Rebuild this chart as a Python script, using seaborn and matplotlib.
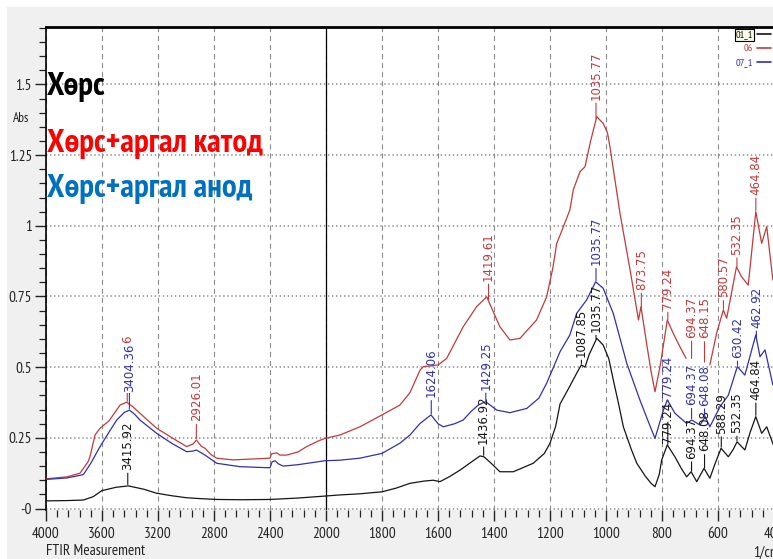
import numpy as np
import pandas as pd
import matplotlib
matplotlib.use("Agg")
import matplotlib.pyplot as plt
import seaborn as sns
from matplotlib import font_manager as fm
from matplotlib.ticker import FixedLocator, FixedFormatter
from matplotlib.patches import Rectangle
from matplotlib.lines import Line2D

# ---------------- data ----------------
series_names = ["01_1", "06", "07_1"]
heading_texts = ["Хөрс", "Хөрс+аргал катод", "Хөрс+аргал анод"]

black_wn = [4000, 3850, 3733, 3662, 3602, 3500, 3412, 3300, 3210, 3100, 2995, 2900, 2781,
            2600, 2400, 2200, 2007, 1950, 1879, 1800, 1750, 1700, 1650, 1617, 1593, 1560,
            1521, 1480, 1450, 1436, 1410, 1379, 1331, 1260, 1220, 1200, 1180, 1164, 1140,
            1120, 1105, 1088, 1075, 1060, 1033, 1010, 990, 974, 955, 938, 910, 890, 860,
            840, 825, 810, 801, 781, 765, 754, 730, 712, 696, 676, 650, 629, 610, 589,
            563, 545, 532, 504, 485, 465, 444, 426, 400]
black_abs = [0.027, 0.028, 0.030, 0.042, 0.063, 0.075, 0.080, 0.068, 0.054, 0.045, 0.038,
             0.035, 0.032, 0.031, 0.032, 0.037, 0.044, 0.048, 0.052, 0.059, 0.072, 0.089,
             0.097, 0.100, 0.095, 0.112, 0.136, 0.165, 0.186, 0.183, 0.160, 0.130, 0.130,
             0.160, 0.195, 0.231, 0.290, 0.370, 0.413, 0.450, 0.478, 0.508, 0.500, 0.545,
             0.602, 0.578, 0.530, 0.455, 0.370, 0.289, 0.210, 0.160, 0.115, 0.090, 0.077,
             0.120, 0.172, 0.225, 0.200, 0.183, 0.140, 0.112, 0.130, 0.095, 0.142, 0.107,
             0.160, 0.213, 0.183, 0.210, 0.236, 0.207, 0.270, 0.325, 0.266, 0.289, 0.219]

red_wn = [4000, 3850, 3757, 3700, 3686, 3650, 3614, 3550, 3471, 3424, 3380, 3329, 3210,
          3100, 2995, 2950, 2926, 2890, 2864, 2820, 2781, 2664, 2400, 2390, 2352, 2330,
          2281, 2200, 2138, 2050, 2007, 1950, 1879, 1800, 1736, 1700, 1664, 1652, 1620,
          1599, 1569, 1510, 1462, 1426, 1400, 1379, 1343, 1307, 1248, 1212, 1190, 1176,
          1164, 1129, 1117, 1093, 1075, 1055, 1033, 1010, 995, 986, 950, 914, 884, 875,
          855, 840, 825, 807, 781, 760, 736, 714, 700, 629, 605, 581, 569, 534, 516, 492,
          465, 444, 426, 404]
red_abs = [0.105, 0.112, 0.125, 0.165, 0.183, 0.260, 0.284, 0.310, 0.366, 0.376, 0.360,
           0.337, 0.284, 0.250, 0.219, 0.228, 0.242, 0.220, 0.213, 0.190, 0.178, 0.172,
           0.178, 0.193, 0.197, 0.189, 0.189, 0.200, 0.219, 0.240, 0.248, 0.260, 0.289,
           0.331, 0.366, 0.410, 0.490, 0.502, 0.505, 0.508, 0.531, 0.643, 0.714, 0.749,
           0.690, 0.643, 0.596, 0.602, 0.667, 0.749, 0.850, 0.938, 0.967, 1.056, 1.127,
           1.191, 1.209, 1.300, 1.386, 1.362, 1.330, 1.280, 1.044, 0.844, 0.667, 0.714,
           0.584, 0.490, 0.413, 0.502, 0.667, 0.620, 0.572, 0.531, np.nan, 0.508, 0.620,
           0.702, 0.673, 0.855, 0.820, 0.790, 1.050, 0.938, 0.997, 0.808]

blue_wn = [4000, 3850, 3733, 3680, 3614, 3550, 3495, 3440, 3405, 3370, 3329, 3210, 3100,
           2995, 2950, 2926, 2864, 2781, 2614, 2400, 2385, 2364, 2340, 2307, 2200, 2007,
           1950, 1879, 1800, 1736, 1700, 1664, 1625, 1600, 1581, 1540, 1510, 1480, 1456,
           1430, 1390, 1343, 1283, 1240, 1212, 1164, 1129, 1105, 1069, 1037, 1010, 974,
           926, 879, 850, 825, 795, 781, 754, 712, 694, 664, 646, 629, 593, 563, 531, 504,
           465, 450, 432, 404]
blue_abs = [0.103, 0.108, 0.120, 0.160, 0.219, 0.270, 0.313, 0.340, 0.348, 0.335, 0.313,
            0.266, 0.230, 0.201, 0.203, 0.207, 0.189, 0.160, 0.148, 0.144, 0.165, 0.169,
            0.158, 0.150, 0.155, 0.169, 0.171, 0.178, 0.195, 0.231, 0.260, 0.301, 0.331,
            0.300, 0.289, 0.300, 0.313, 0.345, 0.366, 0.378, 0.348, 0.339, 0.354, 0.390,
            0.443, 0.555, 0.614, 0.690, 0.738, 0.802, 0.779, 0.690, 0.514, 0.384, 0.310,
            0.248, 0.348, 0.384, 0.337, 0.301, 0.313, 0.295, 0.325, 0.289, 0.360, 0.401,
            0.502, 0.472, 0.614, 0.537, 0.561, 0.437]

black_peaks = [3415.92, 1436.92, 1087.85, 1035.77, 779.24, 694.37, 648.08, 588.29, 532.35, 464.84]
black_peak_labels = ["3415.92", "1436.92", "1087.85", "1035.77", "779.24", "694.37",
                     "648.08", "588.29", "532.35", "464.84"]
red_peaks = [3419.56, 2926.01, 1419.61, 1035.77, 873.75, 779.24, 694.37, 648.15, 580.57,
             532.35, 464.84]
red_peak_labels = ["3419.56", "2926.01", "1419.61", "1035.77", "873.75", "779.24", "694.37",
                   "648.15", "580.57", "532.35", "464.84"]
blue_peaks = [3404.36, 1624.06, 1429.25, 1035.77, 779.24, 694.37, 648.08, 530.42, 462.92]
blue_peak_labels = ["3404.36", "1624.06", "1429.25", "1035.77", "779.24", "694.37",
                    "648.08", "630.42", "462.92"]

x_major = [4000, 3600, 3200, 2800, 2400, 2000, 1800, 1600, 1400, 1200, 1000, 800, 600, 400]
x_major_labels = ["4000", "3600", "3200", "2800", "2400", "2000", "1800", "1600", "1400",
                  "1200", "1000", "800", "600", "400"]
y_major = [0, 0.25, 0.5, 0.75, 1.0, 1.25, 1.5]
y_major_labels = ["-0", "0.25", "0.5", "0.75", "1", "1.25", "1.5"]

# ---------------- layout / style (not data) ----------------
black_offsets = [16, 13, 8, 8, 3, 14, 18, 15, 9, 17]
red_offsets = [20, 19, 20, 20, 19, 12, 22, 25, 13, 13, 17]
blue_offsets = [18, 18, 12, 17, 4, 15, 12, 9, 10]

C_BLACK = "#151515"
C_RED = "#c23a3a"
C_BLUE = "#3030b0"

sns.set_theme(style="white")
names = {f.name for f in fm.fontManager.ttflist}
NARROW = "DejaVu Sans"
for cand in ["PT Sans Narrow", "Roboto Condensed", "Archivo Narrow", "Liberation Sans Narrow"]:
    if cand in names:
        NARROW = cand
        break
plt.rcParams["font.family"] = [NARROW, "DejaVu Sans"]
plt.rcParams["lines.scale_dashes"] = False

W, H = 773, 559
fig = plt.figure(figsize=(W / 100, H / 100), dpi=100)
fig.patch.set_facecolor("white")
fig.patches.append(Rectangle((7 / W, 0), (W - 7) / W, (H - 7) / H, transform=fig.transFigure,
                             facecolor="#f0f0f0", edgecolor="none", zorder=-10))

ax_left, ax_right, ax_top, ax_bottom = 46, 774, 26.5, 510
ax = fig.add_axes([ax_left / W, (H - ax_bottom) / H, (ax_right - ax_left) / W,
                   (ax_bottom - ax_top) / H])
ax.set_facecolor("white")


def fwd(x):
    x = np.asarray(x, dtype=float)
    return np.where(x >= 2000, x, 2.0 * x - 2000.0)


def inv(u):
    u = np.asarray(u, dtype=float)
    return np.where(u >= 2000, u, (u + 2000.0) / 2.0)


ax.set_xscale("function", functions=(fwd, inv))


def make_df(wn, ab, name):
    ab = np.asarray(ab, dtype=float)
    seg = np.cumsum(np.isnan(ab))
    d = pd.DataFrame({"wn": wn, "absorbance": ab, "series": name,
                      "unit": [f"{name}_{s}" for s in seg]})
    return d.dropna()


df = pd.concat([make_df(black_wn, black_abs, series_names[0]),
                make_df(red_wn, red_abs, series_names[1]),
                make_df(blue_wn, blue_abs, series_names[2])], ignore_index=True)

palette = {series_names[0]: C_BLACK, series_names[1]: C_RED, series_names[2]: C_BLUE}
sns.lineplot(data=df, x="wn", y="absorbance", hue="series", units="unit", estimator=None,
             palette=palette, legend=False, linewidth=0.9, sort=False, ax=ax, zorder=3)

ax.set_xlim(4000, 400)
ax.set_ylim(-0.0053, 1.705)
ax.set_xlabel("")
ax.set_ylabel("")

# ticks
ax.xaxis.set_major_locator(FixedLocator(x_major))
ax.xaxis.set_major_formatter(FixedFormatter(x_major_labels))
minor_x = [v for v in list(np.arange(4000, 2000, -80)) + list(np.arange(2000, 399, -40))
           if v not in x_major]
ax.xaxis.set_minor_locator(FixedLocator(minor_x))
ax.yaxis.set_major_locator(FixedLocator(y_major))
ax.yaxis.set_major_formatter(FixedFormatter(y_major_labels))
ax.yaxis.set_minor_locator(FixedLocator(np.arange(0, 1.71, 0.05)))

ax.tick_params(axis="both", which="major", direction="out", length=8, width=1,
               color="#222222", labelsize=11, labelcolor="#222222", bottom=True, left=True)
ax.tick_params(axis="both", which="minor", direction="out", length=5, width=0.9,
               color="#222222", bottom=True, left=True)
ax.tick_params(axis="x", which="major", pad=4)
ax.tick_params(axis="y", which="major", pad=2)

ax.grid(axis="x", which="major", linestyle=(0, (3.6, 2.9)), color="#8a8a8a", linewidth=0.8)
ax.grid(axis="y", which="major", linestyle=(0, (1.0, 1.9)), color="#8a8a8a", linewidth=1.1)
ax.set_axisbelow(True)
ax.axvline(2000, color="black", linewidth=0.9, zorder=2)

for side in ["right", "bottom"]:
    ax.spines[side].set_visible(False)
ax.spines["top"].set_linewidth(2.0)
ax.spines["top"].set_color("black")
ax.spines["left"].set_linewidth(1.2)
ax.spines["left"].set_color("black")


# peak annotations
def annotate(wn, ab, peaks, labels, offsets, color, z, white_idx=()):
    xs = np.asarray(wn, float)[::-1]
    ys = np.asarray(ab, float)[::-1]
    ok = ~np.isnan(ys)
    for i, (p, lab, off) in enumerate(zip(peaks, labels, offsets)):
        yp = np.interp(p, xs[ok], ys[ok])
        kw = {}
        if i in white_idx:
            kw["bbox"] = dict(facecolor="white", edgecolor="none", pad=0.6)
        ax.annotate(lab, xy=(p, yp), xytext=(0, off), textcoords="offset pixels",
                    rotation=90, ha="center", va="bottom", color=color, fontsize=8.5,
                    family=["DejaVu Sans"], zorder=z,
                    arrowprops=dict(arrowstyle="-", color=color, lw=0.8,
                                    shrinkA=0, shrinkB=1), **kw)


annotate(black_wn, black_abs, black_peaks, black_peak_labels, black_offsets, C_BLACK, 5)
annotate(red_wn, red_abs, red_peaks, red_peak_labels, red_offsets, C_RED, 4)
annotate(blue_wn, blue_abs, blue_peaks, blue_peak_labels, blue_offsets, C_BLUE, 6,
         white_idx=(0,))

# headings, sized so that the longest one spans the same width as in the reference
head_colors = ["black", "#ff0000", "#0070c0"]
head_baselines = [95, 152, 197]
heads = []
for txt, col, yb in zip(heading_texts, head_colors, head_baselines):
    heads.append(fig.text(47 / W, 1 - yb / H, txt, color=col, fontsize=22, fontweight="bold",
                          ha="left", va="baseline", zorder=10))
renderer = fig.canvas.get_renderer()
wid = heads[1].get_window_extent(renderer).width
fs = 22 * 215.0 / wid
for t in heads:
    t.set_fontsize(fs)

# legend
handles = [Line2D([], [], color=c, lw=1.2) for c in [C_BLACK, C_RED, C_BLUE]]
leg = ax.legend(handles, series_names, loc="upper right", bbox_to_anchor=(1.0, 1 - 28 / H),
                bbox_transform=fig.transFigure, frameon=False, fontsize=7.5,
                markerfirst=False, handlelength=1.3, handletextpad=0.4, labelspacing=0.45,
                borderaxespad=0, borderpad=0.2, labelcolor=[C_BLACK, C_RED, C_BLUE])
leg.get_texts()[0].set_bbox(dict(facecolor="#fbfbe8", edgecolor="black", lw=0.8, pad=0.8))

# axis captions
fig.text(21 / W, 1 - 119 / H, "Abs", fontsize=9.5, ha="center", va="center",
         color="#222222")
fig.text(46 / W, 1 - 544 / H, "FTIR Measurement", fontsize=11, ha="left", va="top",
         color="#222222")
fig.text(753 / W, 1 - 546 / H, "1/cm", fontsize=11, ha="left", va="top",
         color="#222222")

fig.savefig("out.png", dpi=100, facecolor=fig.get_facecolor())
